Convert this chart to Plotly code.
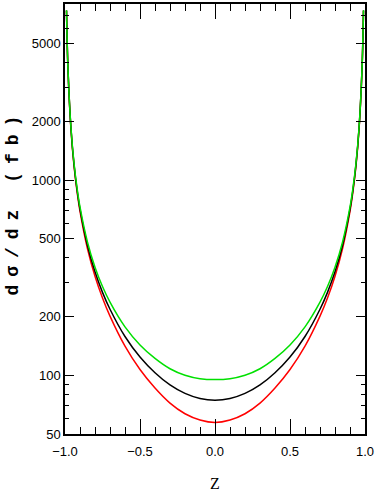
import plotly.graph_objects as go

# z values
z = [-0.99, -0.98, -0.96, -0.94, -0.92, -0.90, -0.85, -0.80, -0.75, -0.70, -0.60, -0.50,
     -0.40, -0.30, -0.20, -0.10, 0.0, 0.10, 0.20, 0.30, 0.40, 0.50, 0.60, 0.70, 0.75,
     0.80, 0.85, 0.90, 0.92, 0.94, 0.96, 0.98, 0.99]

black = [7410, 3690, 1830, 1205, 895, 710, 462, 339, 266, 218, 158, 124,
         103, 89.2, 80.7, 76.0, 74.5, 76.0, 80.7, 89.2, 103, 124, 158, 218, 266,
         339, 462, 710, 895, 1205, 1830, 3690, 7410]

green = [7430, 3707, 1845, 1225, 915, 729, 481, 358, 285, 237, 177, 143,
         122, 108, 100, 96, 95, 96, 100, 108, 122, 143, 177, 237, 285,
         358, 481, 729, 915, 1225, 1845, 3707, 7430]

red = [7395, 3672, 1810, 1188, 878, 693, 445, 322, 249, 201, 141, 107,
       86, 72, 63.5, 59, 57.3, 59, 63.5, 72, 86, 107, 141, 201, 249,
       322, 445, 693, 878, 1188, 1810, 3672, 7395]

x_ticks = [-1.0, -0.5, 0.0, 0.5, 1.0]
y_ticks = [50, 100, 200, 500, 1000, 2000, 5000]
y_minor = [60, 70, 80, 90, 300, 400, 600, 700, 800, 900, 3000, 4000, 6000, 7000, 8000]

fig = go.Figure()
for vals, col in [(red, "#ff0000"), (black, "#000000"), (green, "#00e000")]:
    fig.add_trace(go.Scatter(x=z, y=vals, mode="lines",
                             line=dict(color=col, width=1.5, shape="spline", smoothing=1.0),
                             showlegend=False, hoverinfo="skip"))

tickfont = dict(family="Liberation Sans Narrow, Liberation Sans, sans-serif", size=13, color="black")

fig.update_layout(
    width=376, height=491,
    margin=dict(l=65, r=6, t=2, b=57),
    paper_bgcolor="white", plot_bgcolor="white",
    xaxis=dict(range=[-1, 1], tickvals=x_ticks, tickformat=".1f",
               ticks="inside", ticklen=15, tickwidth=1, tickcolor="black",
               minor=dict(dtick=0.1, ticks="inside", ticklen=7, tickcolor="black", tickwidth=1),
               showline=True, linecolor="black", linewidth=1.5, mirror="allticks",
               showgrid=False, zeroline=False, tickfont=tickfont,
               ticklabeloverflow="allow", ticklabelstandoff=5),
    yaxis=dict(type="log", range=[1.699, 3.903], tickvals=y_ticks,
               ticktext=[str(v) for v in y_ticks],
               ticks="inside", ticklen=9, tickwidth=1, tickcolor="black",
               minor=dict(tickvals=y_minor, ticks="inside", ticklen=4, tickcolor="black", tickwidth=1),
               showline=True, linecolor="black", linewidth=1.5, mirror="allticks",
               showgrid=False, zeroline=False, tickfont=tickfont,
               ticklabeloverflow="allow"),
)

fig.add_annotation(text="<b><span style=\"letter-spacing:8px\">dσ/dz (fb)</span></b>",
                   xref="paper", yref="paper",
                   x=-0.174, y=0.54, xanchor="center", yanchor="middle",
                   textangle=-90, showarrow=False,
                   font=dict(family="Liberation Mono, monospace", size=18, color="black"))
fig.add_annotation(text="Z", xref="paper", yref="paper",
                   x=0.5, y=-0.116, xanchor="center", yanchor="middle",
                   showarrow=False,
                   font=dict(family="Liberation Serif, serif", size=16, color="black"))

fig.write_html("out.html", config={"displayModeBar": False},
               post_script="document.body.style.margin='0';document.body.style.overflow='hidden';")
